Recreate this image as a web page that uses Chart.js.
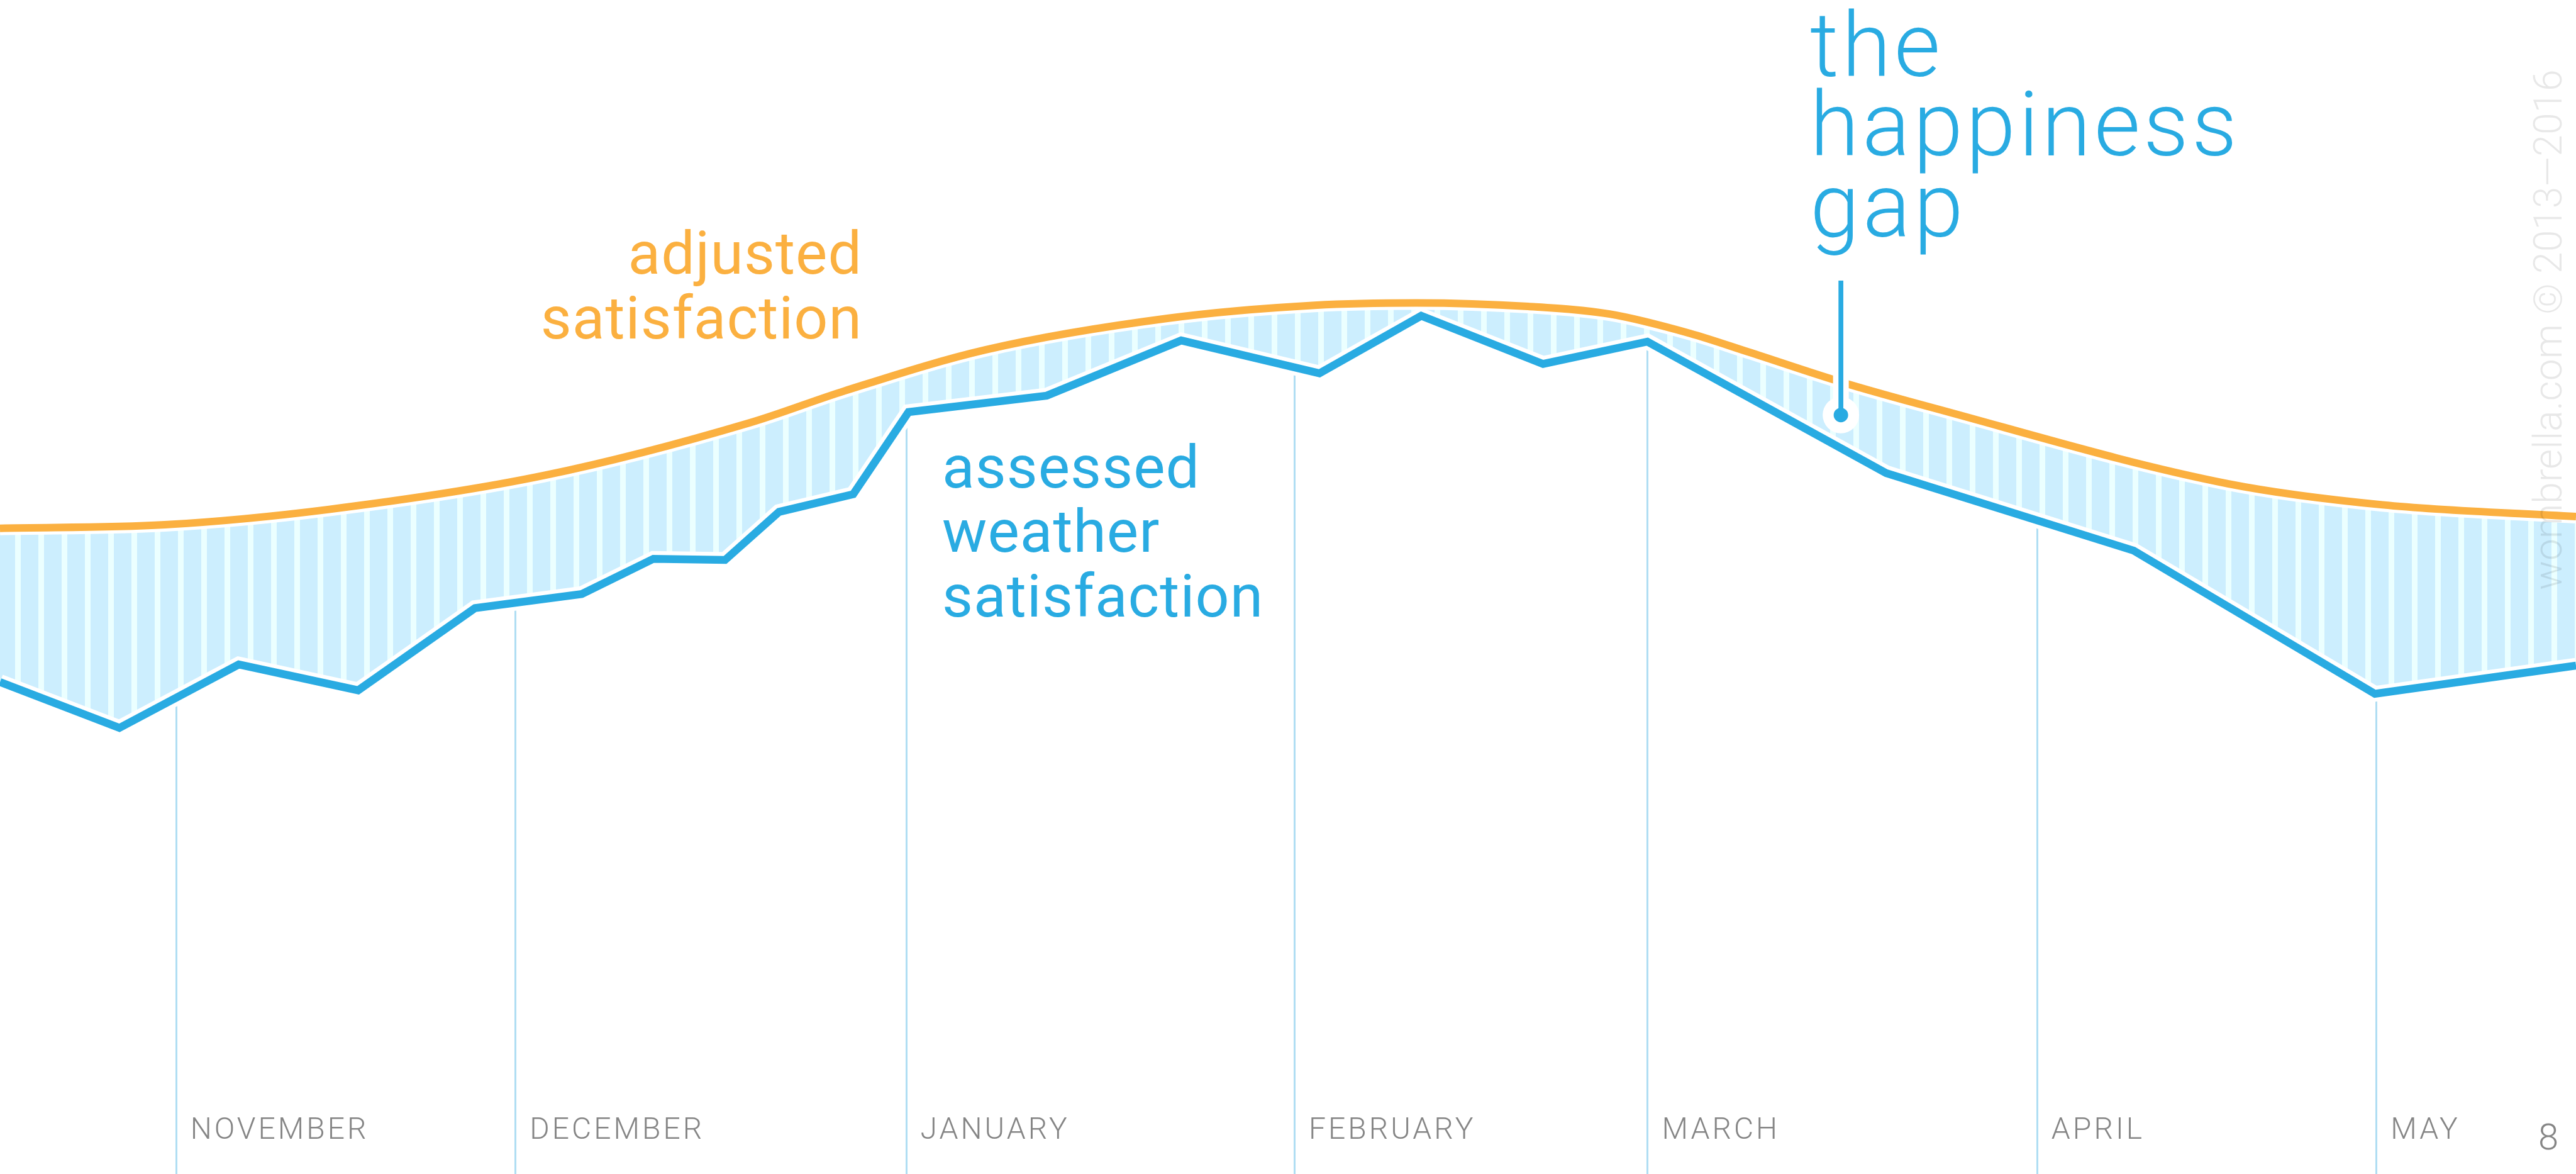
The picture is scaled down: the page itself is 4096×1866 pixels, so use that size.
<!DOCTYPE html>
<html>
<head>
<meta charset="utf-8">
<title>the happiness gap</title>
<script src="https://cdn.jsdelivr.net/npm/chart.js@4.4.1/dist/chart.umd.min.js"></script>
<style>
  html, body { margin: 0; padding: 0; background: #ffffff; }
  #grafico { display: block; }
</style>
</head>
<body>
<canvas id="grafico" width="4096" height="1866"></canvas>
<script>
// x = days from the left edge of the window, y = satisfaction score (0 bottom .. 100 top)
const assessedDays  = [0, 9.5, 19, 28.5, 37.8, 46.3, 52, 57.7, 62, 67.9, 72.3, 83.3, 94, 105, 113.1, 122.8, 131.1, 150.1, 169.8, 189, 205];
const assessedScore = [41.9, 38.0, 43.4, 41.2, 48.2, 49.4, 52.4, 52.3, 56.4, 57.9, 64.9, 66.3, 71.0, 68.2, 73.1, 69.0, 70.9, 59.7, 53.1, 40.9, 43.3];

const adjustedDays  = [0, 13.1, 26.1, 43.3, 59.7, 67.2, 78.4, 93.0, 104.6, 112.7, 121.6, 128.1, 134.5, 139.2, 146.4, 153.7, 177.3, 189.6, 205];
const adjustedScore = [55.0, 55.3, 56.6, 59.5, 64.0, 66.7, 70.2, 72.9, 74.0, 74.2, 73.9, 73.25, 71.6, 70.0, 67.5, 65.3, 58.8, 57.0, 56.0];

const monthNames = ["NOVEMBER", "DECEMBER", "JANUARY", "FEBRUARY", "MARCH", "APRIL", "MAY"];
const monthStartDays = [14, 41, 72.1, 103, 131.1, 162.1, 189.1];

const gapDay = 146.5;
const gapDotScore = 64.65;
const gapTopScore = 76.1;

const pageNumber = "8";
const watermark = "wombrella.com \u00a9 2013\u20142016";

const orange = "#FBB040";
const blue = "#29ABE2";
const font = "Roboto, 'Open Sans', sans-serif";

const canvas = document.getElementById("grafico");
const ctx = canvas.getContext("2d");

function stripePattern() {
  const p = document.createElement("canvas");
  p.width = 37;
  p.height = 4;
  const c = p.getContext("2d");
  c.fillStyle = "#CCEEFE";
  c.fillRect(0, 0, 37, 4);
  c.fillStyle = "#EBFFFF";
  c.fillRect(24, 0, 9, 4);
  return ctx.createPattern(p, "repeat");
}

const toPoints = (xs, ys) => xs.map((x, i) => ({ x: x, y: ys[i] }));

const monthGrid = {
  id: "monthGrid",
  beforeDraw(chart) {
    const c = chart.ctx;
    const xs = chart.scales.x;
    c.save();
    c.strokeStyle = "#B0DEF3";
    c.lineWidth = 3;
    monthStartDays.forEach(d => {
      const x = Math.round(xs.getPixelForValue(d)) + 0.5;
      c.beginPath();
      c.moveTo(x, 0);
      c.lineTo(x, chart.height);
      c.stroke();
    });
    c.restore();
  }
};

const gapPointer = {
  id: "gapPointer",
  afterDatasetsDraw(chart) {
    const c = chart.ctx;
    const x = chart.scales.x.getPixelForValue(gapDay);
    const yDot = chart.scales.y.getPixelForValue(gapDotScore);
    const yTop = chart.scales.y.getPixelForValue(gapTopScore);
    c.save();
    c.strokeStyle = "#ffffff";
    c.lineWidth = 25;
    c.beginPath();
    c.moveTo(x, yTop);
    c.lineTo(x, yDot);
    c.stroke();
    c.fillStyle = "#ffffff";
    c.beginPath();
    c.arc(x, yDot, 29, 0, Math.PI * 2);
    c.fill();
    c.strokeStyle = blue;
    c.lineWidth = 7.7;
    c.beginPath();
    c.moveTo(x, yTop);
    c.lineTo(x, yDot);
    c.stroke();
    c.fillStyle = blue;
    c.beginPath();
    c.arc(x, yDot, 11.5, 0, Math.PI * 2);
    c.fill();

    // watermark, reads bottom to top along the right edge
    c.font = "300 100px " + font;
    const w = c.measureText(watermark).width;
    c.font = "300 " + (100 * 827 / w).toFixed(1) + "px " + font;
    c.fillStyle = "rgba(0,0,0,0.09)";
    c.textAlign = "left";
    c.textBaseline = "alphabetic";
    c.translate(4073, 938);
    c.rotate(-Math.PI / 2);
    c.fillText(watermark, 0, 0);
    c.restore();
  }
};

const labels = {
  id: "labels",
  afterDraw(chart) {
    const c = chart.ctx;
    const xs = chart.scales.x;
    c.save();
    c.textBaseline = "alphabetic";

    c.fillStyle = "#858585";
    c.font = "300 48px " + font;
    c.letterSpacing = "4px";
    c.textAlign = "left";
    monthNames.forEach((m, i) => {
      c.fillText(m, xs.getPixelForValue(monthStartDays[i]) + 23, 1810);
    });
    c.letterSpacing = "0px";
    c.font = "300 58px " + font;
    c.textAlign = "center";
    c.fillText(pageNumber, 4052, 1827);

    c.font = "400 95px " + font;
    c.letterSpacing = "1px";
    c.fillStyle = orange;
    c.textAlign = "right";
    c.fillText("adjusted", 1371, 435);
    c.fillText("satisfaction", 1371, 538);

    c.fillStyle = blue;
    c.textAlign = "left";
    c.fillText("assessed", 1498, 775);
    c.fillText("weather", 1498, 877);
    c.fillText("satisfaction", 1498, 980);

    c.font = "300 142px " + font;
    c.letterSpacing = "5px";
    c.fillText("the", 2878, 121);
    c.fillText("happiness", 2878, 247);
    c.fillText("gap", 2878, 376);
    c.restore();
  }
};

const adjustedPts = toPoints(adjustedDays, adjustedScore);
const assessedPts = toPoints(assessedDays, assessedScore);

new Chart(ctx, {
  type: "line",
  data: {
    datasets: [
      {
        label: "assessed weather satisfaction",
        data: assessedPts,
        borderColor: blue,
        borderWidth: 12.5,
        borderJoinStyle: "miter",
        tension: 0,
        fill: false,
        order: 0
      },
      {
        label: "happiness gap",
        data: assessedPts,
        borderColor: "#ffffff",
        borderWidth: 25,
        borderJoinStyle: "miter",
        tension: 0,
        fill: 2,
        backgroundColor: stripePattern(),
        order: 1
      },
      {
        label: "adjusted satisfaction",
        data: adjustedPts,
        borderColor: orange,
        borderWidth: 12,
        cubicInterpolationMode: "monotone",
        fill: "end",
        backgroundColor: "#ffffff",
        order: 2
      },
      {
        label: "adjusted halo",
        data: adjustedPts,
        borderColor: "#ffffff",
        borderWidth: 22,
        cubicInterpolationMode: "monotone",
        fill: false,
        order: 3
      }
    ]
  },
  options: {
    responsive: false,
    devicePixelRatio: 1,
    animation: false,
    events: [],
    layout: { padding: 0 },
    elements: { point: { radius: 0 } },
    scales: {
      x: { type: "linear", min: 0, max: 205, display: false },
      y: { type: "linear", min: 0, max: 100, display: false }
    },
    plugins: {
      legend: { display: false },
      tooltip: { enabled: false },
      filler: { drawTime: "beforeDatasetsDraw" }
    }
  },
  plugins: [monthGrid, gapPointer, labels]
});
</script>
</body>
</html>
